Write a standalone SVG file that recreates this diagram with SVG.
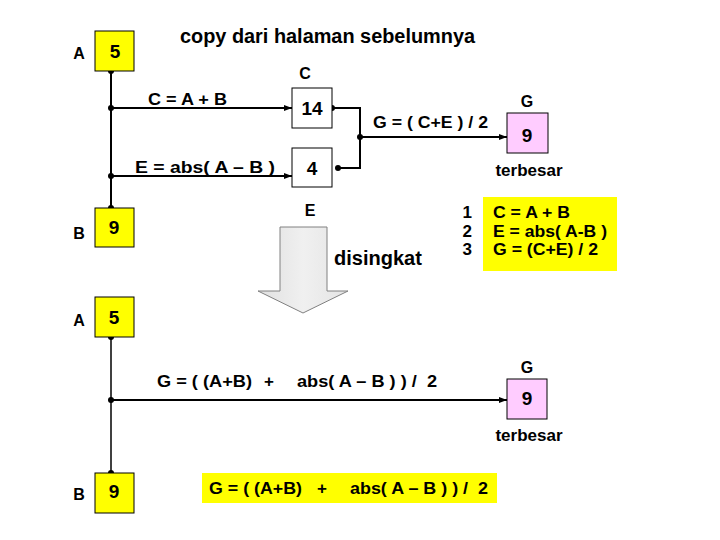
<svg xmlns="http://www.w3.org/2000/svg" width="720" height="540" viewBox="0 0 720 540">
<style>
text{font-family:"Liberation Sans",Arial,sans-serif;font-weight:bold;fill:#000}
.lbl{font-size:17px}
.num{font-size:19px;text-anchor:middle}
.let{font-size:16px;text-anchor:middle}
.ab{font-size:16px;text-anchor:middle}
.yb{fill:#ffff00;stroke:#000;stroke-width:1}
.wb{fill:#fff;stroke:#000;stroke-width:1}
.pb{fill:#ffccff;stroke:#000;stroke-width:1}
.ln{fill:none;stroke:#000;stroke-width:2}
.ln2{fill:none;stroke:#000;stroke-width:1.5}
.dot{fill:#000}
</style>
<defs>
<marker id="arr" markerWidth="8" markerHeight="6" refX="8" refY="3" orient="auto" markerUnits="userSpaceOnUse">
<path d="M0,0 L8,3 L0,6 z" fill="#000"/>
</marker>
<linearGradient id="gr" x1="0" y1="0" x2="1" y2="0">
<stop offset="0" stop-color="#e0e0e0"/>
<stop offset="0.5" stop-color="#f0f0f0"/>
<stop offset="1" stop-color="#e4e4e4"/>
</linearGradient>
</defs>
<rect width="720" height="540" fill="#fff"/>
<text x="180" y="43" style="font-size:20px" textLength="295" lengthAdjust="spacingAndGlyphs">copy dari halaman sebelumnya</text>

<g id="connectors">
<path class="ln" d="M111,71 V208"/>
<path class="ln" d="M111,108 H292" marker-end="url(#arr)"/>
<path class="ln" d="M111,176 H292" marker-end="url(#arr)"/>
<path class="ln" d="M332,108 H360 V168 H338"/>
<path class="ln" d="M360,137 H507" marker-end="url(#arr)"/>
<circle class="dot" cx="111" cy="71" r="3"/>
<circle class="dot" cx="111" cy="108" r="3"/>
<circle class="dot" cx="111" cy="176" r="3"/>
<circle class="dot" cx="111" cy="208" r="3"/>
<circle class="dot" cx="332" cy="108" r="3"/>
<circle class="dot" cx="338" cy="168" r="3"/>
<circle class="dot" cx="360" cy="137" r="3"/>
<path class="ln2" d="M111,337 V473"/>
<path class="ln" d="M111,400 H507" marker-end="url(#arr)"/>
<circle class="dot" cx="111" cy="337" r="3"/>
<circle class="dot" cx="111" cy="400" r="3"/>
<circle class="dot" cx="111" cy="473" r="3"/>
<text class="lbl" x="148" y="105" textLength="79" lengthAdjust="spacingAndGlyphs">C = A + B</text>
<text class="lbl" x="135" y="173" textLength="140" lengthAdjust="spacingAndGlyphs">E = abs( A – B )</text>
<text class="lbl" x="373" y="128" textLength="115" lengthAdjust="spacingAndGlyphs">G = ( C+E ) / 2</text>
<text class="lbl" x="157" y="387" textLength="95" lengthAdjust="spacingAndGlyphs">G = ( (A+B)</text>
<text class="lbl" x="264" y="387">+</text>
<text class="lbl" x="297" y="387" xml:space="preserve" textLength="140" lengthAdjust="spacingAndGlyphs">abs( A – B ) ) /  2</text>
</g>

<g id="nodeA1">
<rect class="yb" x="95" y="31" width="39" height="40"/>
<text class="num" x="115" y="58">5</text>
<text class="ab" x="79" y="59">A</text>
</g>
<g id="nodeB1">
<rect class="yb" x="95" y="208" width="39" height="39"/>
<text class="num" x="114" y="234">9</text>
<text class="ab" x="79" y="239">B</text>
</g>
<g id="nodeC">
<rect class="wb" x="292" y="88" width="40" height="40"/>
<text class="num" x="312" y="115">14</text>
<text class="let" x="305" y="79">C</text>
</g>
<g id="nodeE">
<rect class="wb" x="292" y="148" width="40" height="39"/>
<text class="num" x="312" y="175">4</text>
<text class="let" x="310" y="216">E</text>
</g>
<g id="nodeG1">
<rect class="pb" x="507" y="113" width="41" height="40"/>
<text class="num" x="527" y="142">9</text>
<text class="let" x="527" y="107">G</text>
<text class="let" x="529" y="176" style="font-size:17px">terbesar</text>
</g>
<g id="steps">
<rect x="483" y="197" width="134" height="74" fill="#ffff00"/>
<text class="lbl" x="472" y="218" text-anchor="end">1</text>
<text class="lbl" x="472" y="237" text-anchor="end">2</text>
<text class="lbl" x="472" y="255" text-anchor="end">3</text>
<text class="lbl" x="493" y="218" textLength="77" lengthAdjust="spacingAndGlyphs">C = A + B</text>
<text class="lbl" x="493" y="237" textLength="114" lengthAdjust="spacingAndGlyphs">E = abs( A-B )</text>
<text class="lbl" x="493" y="255" textLength="105" lengthAdjust="spacingAndGlyphs">G = (C+E) / 2</text>
</g>
<g id="shorten">
<path d="M280,227 H327 V291 H348 L303,313 L258,291 H280 Z" fill="url(#gr)" stroke="#808080" stroke-width="1"/>
<text x="334" y="265" style="font-size:20px">disingkat</text>
</g>
<g id="nodeA2">
<rect class="yb" x="95" y="297" width="39" height="40"/>
<text class="num" x="114" y="324">5</text>
<text class="ab" x="79" y="326">A</text>
</g>
<g id="nodeB2">
<rect class="yb" x="95" y="473" width="39" height="40"/>
<text class="num" x="114" y="498">9</text>
<text class="ab" x="79" y="500">B</text>
</g>
<g id="nodeG2">
<rect class="pb" x="507" y="379" width="40" height="40"/>
<text class="num" x="527" y="405">9</text>
<text class="let" x="527" y="373">G</text>
<text class="let" x="529" y="441" style="font-size:17px">terbesar</text>
</g>
<g id="formula">
<rect x="202" y="473" width="295" height="30" fill="#ffff00"/>
<text class="lbl" x="209" y="494" textLength="93" lengthAdjust="spacingAndGlyphs">G = ( (A+B)</text>
<text class="lbl" x="317" y="494">+</text>
<text class="lbl" x="350" y="494" xml:space="preserve" textLength="138" lengthAdjust="spacingAndGlyphs">abs( A – B ) ) /  2</text>
</g>
</svg>
